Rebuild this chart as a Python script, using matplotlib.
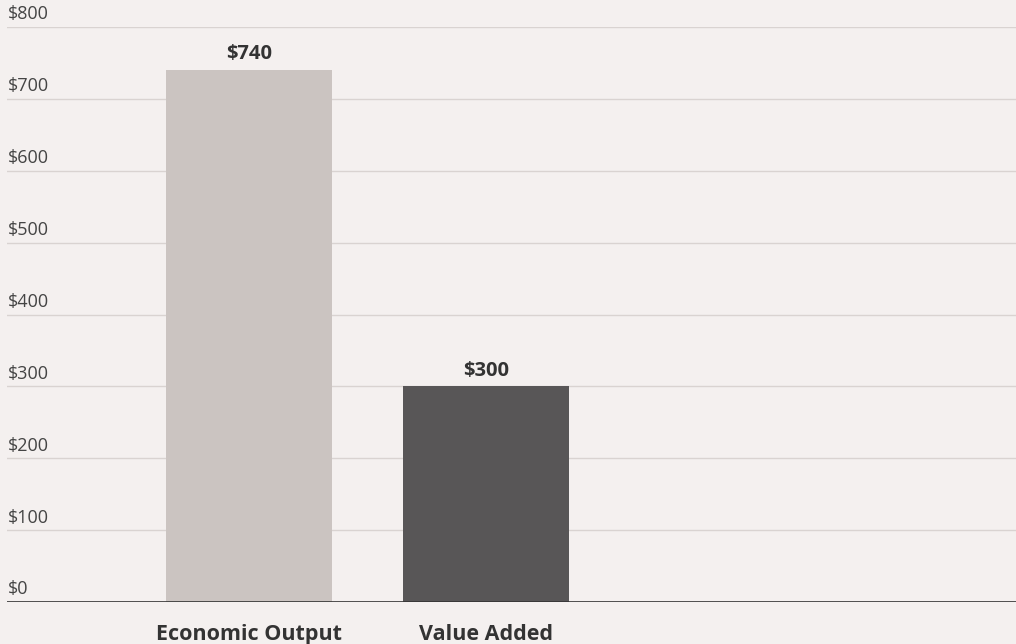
import matplotlib.pyplot as plt

categorias = ['Economic Output', 'Value Added']
valores = [740, 300]
etiquetas = ['$740', '$300']
ticks_y = [0, 100, 200, 300, 400, 500, 600, 700, 800]

fondo = '#f4f0ef'
colores = ['#cbc4c1', '#585657']

fig = plt.figure(figsize=(10.16, 6.44), dpi=100, facecolor=fondo)
ax = fig.add_axes([7 / 1016, 1 - 602 / 644, 1009 / 1016, 575 / 644])
ax.set_facecolor(fondo)

pos = list(range(len(categorias)))
ax.bar(pos, valores, width=0.7, color=colores, zorder=3)

ax.set_xlim(-1.021, 3.236)
ax.set_ylim(0, 800)

# Lineas de la cuadricula
for v in ticks_y[1:]:
    ax.axhline(v, color='#d9d3d1', linewidth=1, zorder=1)
ax.axhline(0, color='#333333', linewidth=1.2, zorder=4)

# Etiquetas del eje y encima de cada linea
for v in ticks_y:
    ax.text(0.001, v + 5, '$' + str(v), transform=ax.get_yaxis_transform(),
            ha='left', va='bottom', fontsize=13, color='#444444', family='Open Sans')

# Valores encima de las barras
for x, v, t in zip(pos, valores, etiquetas):
    ax.text(x, v + 8, t, ha='center', va='bottom', fontsize=14.5, fontweight='bold',
            color='#333333', family='Open Sans')

ax.set_xticks(pos)
ax.set_xticklabels(categorias, fontsize=15.5, fontweight='bold', color='#333333', family='Open Sans')
ax.tick_params(axis='x', length=0, pad=16)
ax.set_yticks([])
for s in ax.spines.values():
    s.set_visible(False)

plt.savefig('out.png', dpi=100, facecolor=fondo)
